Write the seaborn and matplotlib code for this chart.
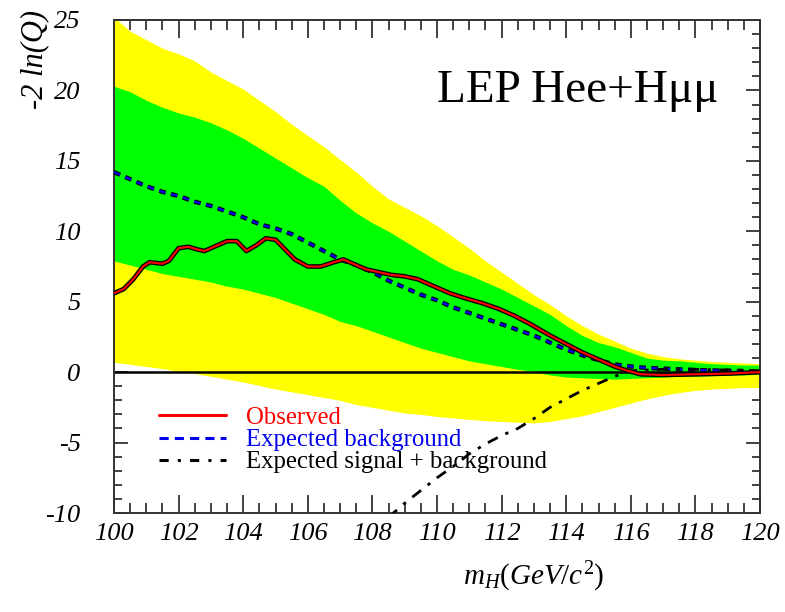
import matplotlib
matplotlib.use("Agg")
import matplotlib.pyplot as plt
import matplotlib.patheffects as pe
import seaborn as sns
import numpy as np

# ---- data ----
band_mass = [100, 100.5, 101, 101.5, 102, 102.5, 103, 103.5, 104, 104.5, 105, 105.5,
             106, 106.5, 107, 107.5, 108, 108.5, 109, 109.5, 110, 110.5, 111, 111.5,
             112, 112.5, 113, 113.5, 114, 114.5, 115, 115.5, 116, 116.5, 117, 117.5,
             118, 118.5, 119, 119.5, 120]
band2_up = [25.2, 24.2, 23.6, 23.0, 22.6, 22.1, 21.3, 20.7, 20.1, 19.3, 18.5, 17.6,
            16.8, 16.0, 15.1, 14.2, 13.2, 12.3, 11.7, 11.1, 10.4, 9.6, 8.8, 7.9,
            7.1, 6.3, 5.5, 4.8, 4.0, 3.3, 2.7, 2.2, 1.7, 1.35, 1.1, 0.95,
            0.85, 0.75, 0.7, 0.65, 0.6]
band1_up = [20.3, 19.9, 19.3, 18.8, 18.4, 18.1, 17.7, 17.2, 16.6, 15.9, 15.2, 14.5,
            13.8, 13.2, 12.2, 11.3, 10.6, 10.0, 9.3, 8.6, 7.9, 7.3, 6.9, 6.4,
            5.9, 5.3, 4.7, 4.1, 3.3, 2.6, 2.1, 1.8, 1.4, 1.0, 0.85, 0.8,
            0.7, 0.6, 0.55, 0.5, 0.5]
band1_dn = [7.9, 7.6, 7.3, 7.0, 6.8, 6.6, 6.4, 6.1, 5.9, 5.6, 5.3, 4.9,
            4.5, 4.1, 3.6, 3.3, 2.9, 2.5, 2.1, 1.7, 1.4, 1.1, 0.8, 0.6,
            0.4, 0.2, 0.05, -0.2, -0.35, -0.4, -0.45, -0.5, -0.45, -0.4, -0.35, -0.3,
            -0.3, -0.25, -0.2, -0.2, -0.15]
band2_dn = [0.7, 0.55, 0.4, 0.25, 0.05, -0.1, -0.3, -0.5, -0.7, -0.95, -1.2, -1.4,
            -1.6, -1.8, -2.0, -2.3, -2.5, -2.7, -2.9, -3.0, -3.15, -3.25, -3.35, -3.45,
            -3.5, -3.55, -3.6, -3.5, -3.3, -3.1, -2.8, -2.5, -2.2, -1.9, -1.65, -1.45,
            -1.3, -1.2, -1.15, -1.1, -1.1]
exp_bkg = [14.2, 13.7, 13.2, 12.8, 12.5, 12.1, 11.8, 11.4, 11.0, 10.5, 10.2, 9.8,
           9.2, 8.6, 8.0, 7.6, 7.1, 6.5, 6.0, 5.5, 5.1, 4.6, 4.2, 3.8,
           3.4, 3.0, 2.6, 2.1, 1.6, 1.2, 0.85, 0.55, 0.4, 0.3, 0.25, 0.2,
           0.15, 0.12, 0.1, 0.08, 0.05]

obs_mass = [100, 100.3, 100.6, 100.9, 101.1, 101.5, 101.7, 102.0, 102.3, 102.6, 102.8,
            103.1, 103.5, 103.8, 104.1, 104.4, 104.7, 105.0, 105.3, 105.6, 106.0, 106.4,
            106.8, 107.1, 107.4, 107.8, 108.2, 108.6, 109.0, 109.4, 109.8, 110.4, 110.8,
            111.4, 111.9, 112.4, 112.9, 113.5, 114.0, 114.5, 115.0, 115.5, 115.9, 116.3,
            117, 118, 119, 120]
observed = [5.6, 5.9, 6.6, 7.5, 7.8, 7.7, 7.9, 8.8, 8.9, 8.7, 8.6,
            8.9, 9.3, 9.3, 8.6, 9.0, 9.5, 9.4, 8.7, 8.0, 7.5, 7.5,
            7.8, 8.0, 7.7, 7.3, 7.1, 6.9, 6.8, 6.6, 6.2, 5.6, 5.3,
            4.9, 4.5, 4.0, 3.4, 2.6, 2.0, 1.4, 0.9, 0.4, 0.1, -0.15,
            -0.2, -0.15, -0.1, 0.0]

sb_mass = [108.5, 109, 109.5, 110, 110.5, 111, 111.5, 112, 112.5, 113, 113.5, 114,
           114.5, 115, 115.5, 116, 117, 118, 119, 120]
exp_sb = [-10.3, -9.3, -8.4, -7.5, -6.7, -5.8, -5.1, -4.5, -4.0, -3.3, -2.5, -1.9,
          -1.3, -0.8, -0.3, 0.1, 0.2, 0.2, 0.15, 0.1]

legend_labels = ["Observed", "Expected background", "Expected signal + background"]
title_text = "LEP Hee+Hμμ"

# ---- style ----
sns.set_style("ticks")
plt.rcParams["font.family"] = ["Liberation Serif", "DejaVu Serif"]
plt.rcParams["mathtext.fontset"] = "custom"
plt.rcParams["mathtext.rm"] = "Liberation Serif"
plt.rcParams["mathtext.it"] = "Liberation Serif:italic"
plt.rcParams["axes.unicode_minus"] = False
plt.rcParams["text.color"] = "black"
plt.rcParams["axes.labelcolor"] = "black"
plt.rcParams["xtick.color"] = "black"
plt.rcParams["ytick.color"] = "black"

fig = plt.figure(figsize=(7.85, 6.12), dpi=100)
ax = fig.add_axes([114 / 785, 1 - 513 / 612, 646 / 785, 493 / 612])

ax.fill_between(band_mass, band2_dn, band2_up, color="#ffff00", lw=0, zorder=1)
ax.fill_between(band_mass, band1_dn, band1_up, color="#00ff00", lw=0, zorder=1.1)
ax.axhline(0, color="black", lw=1.8, zorder=2)

sns.lineplot(x=band_mass, y=exp_bkg, ax=ax, color="#0000ee", lw=1.6,
             linestyle=(0, (3, 2.5)), estimator=None, zorder=3,
             path_effects=[pe.Stroke(linewidth=3.2, foreground="black"), pe.Normal()])
sns.lineplot(x=obs_mass, y=observed, ax=ax, color="#ff0000", lw=1.5,
             estimator=None, zorder=4,
             path_effects=[pe.Stroke(linewidth=3.4, foreground="black"), pe.Normal()])
sns.lineplot(x=sb_mass, y=exp_sb, ax=ax, color="black", lw=2.0,
             linestyle=(0, (4, 3, 1.2, 3)), estimator=None, zorder=3)

ax.set_xlim(100, 120)
ax.set_ylim(-10, 25)
ax.set_xticks(np.arange(100, 121, 2))
ax.set_xticks(np.arange(100, 120.01, 0.5), minor=True)
ax.set_yticks(np.arange(-10, 26, 5))
ax.set_yticks(np.arange(-10, 25.01, 1), minor=True)

ax.tick_params(which="both", direction="in", top=True, right=True, width=1.2,
               color="#222222", labelsize=19)
ax.tick_params(axis="x", which="major", length=13, pad=7)
ax.tick_params(axis="x", which="minor", length=7)
ax.tick_params(axis="y", which="major", length=10, pad=24)
ax.tick_params(axis="y", which="minor", length=6)
for lab in ax.get_xticklabels() + ax.get_yticklabels():
    lab.set_style("italic")
for s in ax.spines.values():
    s.set_linewidth(1.4)
    s.set_color("#333333")

ax.set_ylabel("-2 ln(Q)", fontsize=22, style="italic")
ax.yaxis.set_label_coords(-0.100, 0.92)
ax.set_xlabel(r"$m_{H}(GeV/c^{2})$", fontsize=21)
ax.xaxis.set_label_coords(0.649, -0.095)

ax.text((437 - 114) / 646, (513 - 102) / 493, title_text, transform=ax.transAxes,
        fontsize=34, ha="left", va="baseline", zorder=6)

h_obs = plt.Line2D([], [], color="#ff0000", lw=2.2)
h_bkg = plt.Line2D([], [], color="#0000ee", lw=2.2, linestyle=(0, (3, 2)))
h_sb = plt.Line2D([], [], color="black", lw=2.2, linestyle=(0, (3, 3, 1, 3)))
leg = ax.legend([h_obs, h_bkg, h_sb], legend_labels, loc="center left",
                bbox_to_anchor=(0.055, 0.148), frameon=False, fontsize=17.8,
                handlelength=2.7, handletextpad=0.8, labelspacing=0.0,
                borderaxespad=0)
for t, c in zip(leg.get_texts(), ["#ff0000", "#0000ee", "black"]):
    t.set_color(c)

fig.savefig("out.png", dpi=100)
